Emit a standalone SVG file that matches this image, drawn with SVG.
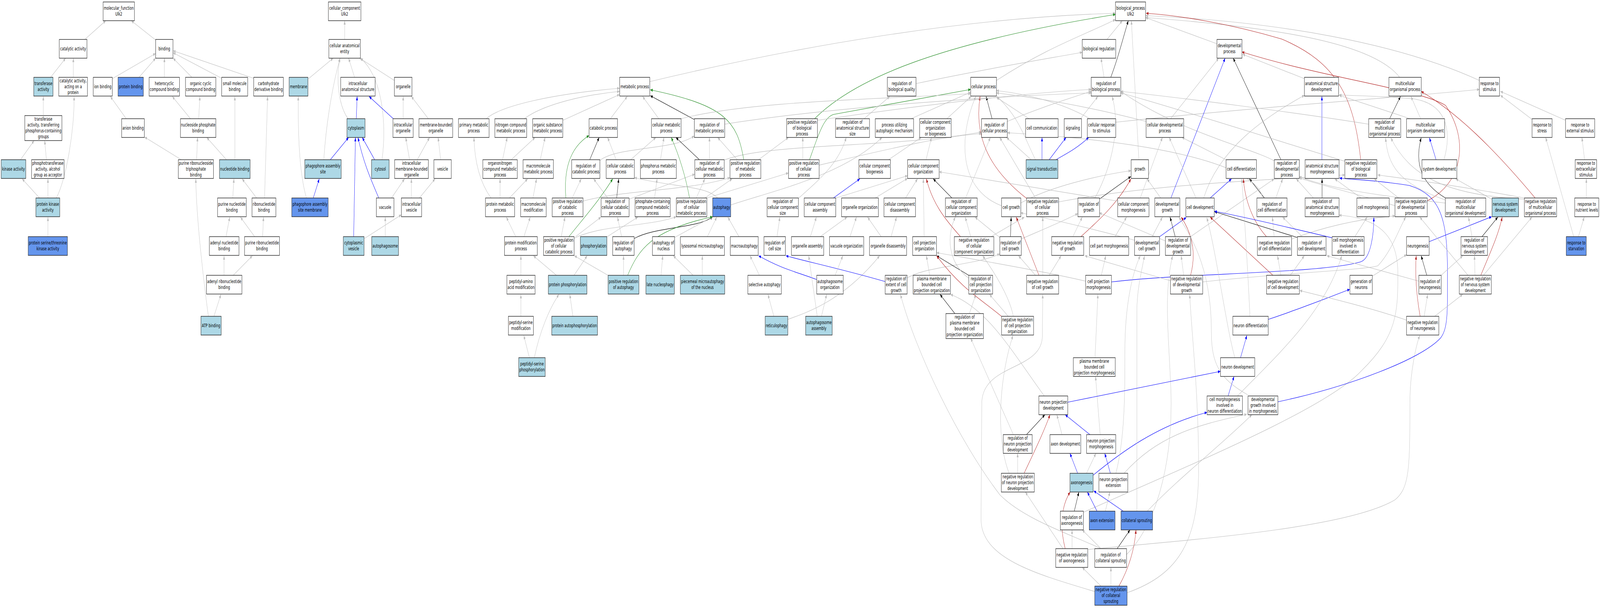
<svg xmlns="http://www.w3.org/2000/svg" width="6641" height="1557" viewBox="0 0 6641 1557" preserveAspectRatio="none" style="width:100vw;height:100vh;display:block">
<style>
.n rect{fill:#fff;stroke:#222;stroke-width:1.4}
.n.lb rect{fill:#add8e6}
.n.cb rect{fill:#6495ed}
.n text{font-family:'DejaVu Sans','Liberation Sans',sans-serif;font-size:13px;text-anchor:middle;fill:#000}
#edges path{fill:none;stroke-width:1.2;stroke:#bebebe;marker-end:url(#mg)}
#edges .k{stroke:#000;marker-end:url(#mk)}
#edges .b{stroke:#0000ff;marker-end:url(#mb)}
#edges .v{stroke:#228b22;marker-end:url(#mv)}
#edges .r{stroke:#b22222;marker-end:url(#mr)}
</style>
<defs>
<marker id="mg" viewBox="0 0 10 8" refX="10" refY="4" markerWidth="10" markerHeight="8" markerUnits="userSpaceOnUse" orient="auto"><path d="M0,0L10,4L0,8z" fill="#bebebe"/></marker>
<marker id="mk" viewBox="0 0 10 8" refX="10" refY="4" markerWidth="10" markerHeight="8" markerUnits="userSpaceOnUse" orient="auto"><path d="M0,0L10,4L0,8z" fill="#000"/></marker>
<marker id="mb" viewBox="0 0 10 8" refX="10" refY="4" markerWidth="10" markerHeight="8" markerUnits="userSpaceOnUse" orient="auto"><path d="M0,0L10,4L0,8z" fill="#0000ff"/></marker>
<marker id="mv" viewBox="0 0 10 8" refX="10" refY="4" markerWidth="10" markerHeight="8" markerUnits="userSpaceOnUse" orient="auto"><path d="M0,0L10,4L0,8z" fill="#228b22"/></marker>
<marker id="mr" viewBox="0 0 10 8" refX="10" refY="4" markerWidth="10" markerHeight="8" markerUnits="userSpaceOnUse" orient="auto"><path d="M0,0L10,4L0,8z" fill="#b22222"/></marker>
</defs>
<rect x="0" y="0" width="6641" height="1557" fill="#fff"/>
<g id="edges">
<path d="M352,101 L439,53"/>
<path d="M647,103 L545,53"/>
<path d="M210,198 L272.5,149"/>
<path d="M304.4,198 L304.4,149"/>
<path d="M466,201.5 L646,137"/>
<path d="M577,198 L646,149"/>
<path d="M682.4,198 L682.4,149"/>
<path d="M796.4,198 L718.5,149"/>
<path d="M920,200.5 L718.5,135"/>
<path d="M1052.7,200.5 L718.5,130"/>
<path d="M179.8,296 L179.8,247"/>
<path d="M523.9,304 L458,247"/>
<path d="M790.7,304 L715,247"/>
<path d="M824.7,304 L829.7,247"/>
<path d="M85,409 L141.6,360"/>
<path d="M192.6,409 L185.5,360"/>
<path d="M752.5,409 L600,351"/>
<path d="M816,409 L820,352"/>
<path d="M940,409 L858,352"/>
<path d="M974.8,409 L974.8,247"/>
<path d="M164,507 L92,458"/>
<path d="M199,507 L199,458"/>
<path d="M233.6,507 C275,460 310,330 307.3,247"/>
<path d="M966,507 L971,458"/>
<path d="M1065,507 L1005,458"/>
<path d="M1098,507 L1110.6,247"/>
<path d="M199,606 L199,556"/>
<path d="M938,606 L953.6,556"/>
<path d="M1057,606 L998,556"/>
<path d="M1090,606 L1093.7,556"/>
<path d="M930,705 L930,655"/>
<path d="M968,705 L1047.7,655"/>
<path d="M888,810 L917,754"/>
<path d="M865,810 C845,720 815,560 812.7,458"/>
<path d="M1430.6,101 L1430.6,53"/>
<path d="M1280.5,201.5 L1383,149"/>
<path d="M1444.7,304 C1405,270 1393,200 1411.5,149"/>
<path d="M1471.7,198 L1446.9,149"/>
<path d="M1636.6,206 L1493,149"/>
<path class="b" d="M1478.7,304 L1482.3,247"/>
<path class="b" d="M1371,409 L1447,352"/>
<path d="M1344,409 C1352,330 1375,230 1411.5,149"/>
<path class="b" d="M1555,409 L1503.5,352"/>
<path d="M1585.6,409 C1605,320 1590,200 1497,149"/>
<path class="b" d="M1632.4,304 L1531.8,247"/>
<path d="M1673.4,304 L1673.4,247"/>
<path d="M1778,304 L1707.4,247"/>
<path d="M1700,409 L1684,352"/>
<path d="M1732,409 L1783,352"/>
<path d="M1829,409 L1818.5,352"/>
<path class="b" d="M1300.3,507 L1325,458"/>
<path d="M1272,507 C1240,440 1237,330 1238,247"/>
<path class="b" d="M1572,507 C1540,460 1510,420 1485.8,352"/>
<path d="M1625,507 L1679,458"/>
<path d="M1707.4,507 L1707.4,458"/>
<path d="M1740.7,507 L1805.8,458"/>
<path class="b" d="M1468,606 L1475.2,352"/>
<path d="M1512,611 L1666,550"/>
<path d="M1599,606 L1599,556"/>
<path d="M2018,304 C2080,270 2300,240 2571.7,226"/>
<path d="M2176,304 C2250,270 2400,245 2571.7,234"/>
<path d="M2336.6,308 L2571.7,242"/>
<path d="M2533.4,304 L2603.5,247"/>
<path d="M2734.5,304 L2667.2,247"/>
<path class="k" d="M2881.7,306 L2699,245"/>
<path d="M2086,409 L2105,352"/>
<path d="M2122,409 L2221,352"/>
<path d="M2242.5,409 L2262.3,352"/>
<path d="M2038,507 C1995,470 1970,420 1967.2,352"/>
<path d="M2075.5,507 L2075.5,458"/>
<path d="M2114.5,507 L2190,458"/>
<path d="M2212,507 L2227,458"/>
<path d="M2140.6,606 L2101.7,556"/>
<path d="M2174.6,606 L2200.8,556"/>
<path d="M2162,705 L2162,655"/>
<path d="M2162,810 L2162,754"/>
<path d="M2197.3,916 L2174,859"/>
<path d="M2217.7,916 C2240,850 2280,790 2320,754"/>
<path d="M2378,810 L2365,754"/>
<path d="M2309.7,705 L2214,655"/>
<path d="M2382.6,705 L2437.2,655"/>
<path d="M2520.7,606 L2647.4,556"/>
<path d="M2716.8,507 L2727.4,458"/>
<path d="M2741.5,409 L2755.7,352"/>
<path d="M2557.5,409 L2522,352"/>
<path d="M2617.7,409 L2722.4,352"/>
<path class="k" d="M2447.8,409 L2486.7,352"/>
<path d="M2490,411 C2560,375 2800,385 2881.7,348"/>
<path d="M2944.7,409 L2944.7,352"/>
<path class="k" d="M2903,409 L2805.3,352"/>
<path d="M3007.7,409.4 C3200,365 3700,380 4073.7,338"/>
<path class="v" d="M3087,409 C3060,310 3010,270 2699,230"/>
<path d="M3060,409 L2978.7,352"/>
<path d="M3148.6,409 L3272.5,352"/>
<path class="v" d="M2348.7,507 C2340,440 2360,380 2445,347"/>
<path d="M2374.9,507 L2412.4,458"/>
<path d="M2419.5,515 C2600,485 2850,490 3030,455"/>
<path class="k" d="M2559.6,507 L2568,458"/>
<path d="M2522,507 L2464,458"/>
<path d="M2611.3,510 L2883.9,446"/>
<path class="v" d="M2862,507 C2845,450 2820,400 2786,352"/>
<path d="M2890,507 L2925.6,458"/>
<path d="M2925.6,507 L3038.9,458"/>
<path d="M2934,507 L3272.5,443"/>
<path d="M2978.7,507 C2930,475 2800,480 2633.3,455"/>
<path d="M3032.5,525 C3200,490 3500,450 3661,352"/>
<path class="v" d="M2361.4,606 C2420,560 2480,520 2543.3,458"/>
<path d="M2329.5,606 L2345,556"/>
<path d="M2389,606 L2494.5,556"/>
<path d="M2383,610 C2500,575 2700,580 2806.7,555"/>
<path class="k" d="M2631.8,611 C2720,580 2900,585 2958,555"/>
<path d="M2580,606 L2563,556"/>
<path d="M2800.3,608 L2958,555"/>
<path d="M2936,606 L2975,556"/>
<path d="M3067,606 L3021,556"/>
<path d="M2588,705 L2588,655"/>
<path class="v" d="M2605,705 C2650,640 2700,590 2958,555"/>
<path d="M2523.5,705 L2384,655"/>
<path d="M2743.7,705 L2750.8,655"/>
<path d="M2876.8,705 L2794.6,655"/>
<path d="M2915,705 L2915,655"/>
<path d="M3152,705 L3113,655"/>
<path d="M3212,810 L3187.5,754"/>
<path d="M3269.7,818 C3350,800 3500,770 3651,655"/>
<path class="b" d="M3390.6,716 C3300,695 3250,690 3148.6,655"/>
<path class="b" d="M3673.8,721 C3500,690 3350,670 3262,655"/>
<path d="M3225,606 L3237,556"/>
<path d="M3314,508 C3400,460 3480,420 3512.4,352"/>
<path d="M3802.6,214 C4100,175 4350,150 4492,134"/>
<path d="M3586.7,304 L3692.9,247"/>
<path d="M3781.4,304 L4029,236"/>
<path d="M3930,304 L4031,247"/>
<path class="k" d="M4117.7,304 L4092.9,247"/>
<path d="M4181,311 C4300,280 4420,255 4528.8,234"/>
<path d="M4271.3,304 L4135.3,249"/>
<path class="b" d="M4325,409 L4325,352"/>
<path d="M4298,409 C4250,350 4230,300 4138,247"/>
<path class="b" d="M4354.8,409 L4424.8,352"/>
<path class="b" d="M4383,409 C4420,395 4460,385 4519,352"/>
<path d="M4280,409 L4177.8,352"/>
<path d="M3688,409 L3823.9,352"/>
<path d="M3843.7,409 L3866.3,352"/>
<path class="k" d="M3951,507 L3873.4,458"/>
<path d="M4008,507 L4110.6,352"/>
<path d="M4157,527 C3960,480 3990,330 4050.4,247"/>
<path d="M4236.6,520 C4350,480 4550,450 4694.5,437"/>
<path class="r" d="M4260.7,508 C4120,440 4040,360 4068,247"/>
<path d="M4298,507 L4149.5,352"/>
<path d="M4394.4,517 C4800,470 5300,460 5582,448"/>
<path class="b" d="M3459.3,507 L3569,458"/>
<path d="M3470,507 L3767,450"/>
<path d="M3632.7,507 L3767,456.7"/>
<path d="M3758.7,507 L3808.3,458"/>
<path d="M3363.7,606 L3388.5,556"/>
<path d="M3404.8,606 L3516,556"/>
<path d="M3528,606 L3554.8,556"/>
<path d="M3657.5,606 L3600.9,556"/>
<path d="M3698.6,606 L3721.2,556"/>
<path d="M3835.9,606 L3832.4,458"/>
<path class="r" d="M3986.7,606 C3920,560 3870,520 3845,458"/>
<path d="M4029,606 L4006.5,556"/>
<path d="M4114,606 L4252,556"/>
<path class="k" d="M4194,606 L4197,556"/>
<path d="M4149.5,608 L4046.8,556"/>
<path d="M4238.7,612 C4320,590 4400,570 4473.6,547"/>
<path d="M4453,606 L4492,556"/>
<path class="r" d="M4486.4,606 C4560,565 4640,520 4694,458"/>
<path d="M3466.4,705 L3498.2,655"/>
<path d="M3765,712 C3850,680 4050,680 4149.5,650"/>
<path d="M3859,705 L3845,655"/>
<path class="k" d="M4020.7,705 L3887.6,655"/>
<path d="M4020,712 C3930,670 3930,600 3965.4,556"/>
<path d="M4298,705 L4227.4,655"/>
<path class="r" d="M4312.3,705 L4218,556"/>
<path d="M4328,705 L4328,556"/>
<path d="M4354.8,705 L4404.3,655"/>
<path d="M3409.7,810 L3431,754"/>
<path d="M3392,810 L3356.6,655"/>
<path class="k" d="M3963.3,803 L3901.7,754"/>
<path d="M4023.5,803 L4050.4,754"/>
<path d="M4184.9,810 L4107,754"/>
<path class="r" d="M4156.6,810 C4080,770 3990,740 3887.6,655"/>
<path d="M4206,810 C4190,760 4130,700 4078.7,655"/>
<path d="M4335,1014.4 C4200,900 4100,790 3945,754"/>
<path class="k" d="M4260.7,1113 L4337,1062"/>
<path d="M4206,1113 L4029,866"/>
<path d="M4223.8,1212 L4223.8,1161"/>
<path class="r" d="M4250.7,1212 C4290,1160 4330,1110 4358.3,1062"/>
<path d="M4188.5,1212 C4130,1120 4150,960 4204.7,859"/>
<path d="M4407.9,1113 L4386.7,1062"/>
<path class="k" d="M4458.8,1309.5 L4477.9,1260"/>
<path d="M4412,1405 L4255.7,1260"/>
<path d="M4569.9,1405 C4450,1370 4250,1330 4150,1267 C3980,1130 3800,900 3737.5,754"/>
<path d="M4545,1515 C4300,1470 4072,1430 4072,1330 L4075,1031 C4080,930 4326,950 4326.5,860 L4328,754"/>
<path d="M4594.7,101 L4658.4,53"/>
<path class="k" d="M4610.3,198 C4640,150 4660,100 4683.2,53"/>
<path d="M4582.6,198 L4569.9,149"/>
<path d="M5050.6,112 L4755,45"/>
<path d="M4727,409 L4696,53"/>
<path d="M2697,209 C3300,120 4000,45 4630,34"/>
<path class="v" d="M3381,304 C3550,200 3900,110 4630,37"/>
<path d="M4136,206 C4350,120 4500,90 4630,50"/>
<path class="v" d="M3360,409 C3400,340 3420,300 3460,293 L4029,229"/>
<path d="M3332,409 L3332,352"/>
<path d="M3399,423 C3700,380 3900,350 4073.7,342"/>
<path d="M3393.4,308 C3700,280 4200,240 4528.8,229"/>
<path d="M2826.5,304 C3100,260 3600,255 4029,240"/>
<path d="M3007.7,318 C3500,270 4200,245 4528.8,238"/>
<path d="M4485,304 L4557,247"/>
<path d="M4630.8,313 C5200,275 5800,250 6140.4,229"/>
<path d="M4523.9,304 C4400,260 4250,240 4136,232"/>
<path d="M4858.7,304 L5058.4,149"/>
<path d="M4756.8,311 C4500,270 4300,250 4136,238"/>
<path d="M5088.8,409 L4906,352"/>
<path class="k" d="M5316.7,409 L5118.5,149"/>
<path d="M5289,412 C5200,380 4900,340 4652,234"/>
<path class="b" d="M5486.7,409 L5486.7,247"/>
<path d="M5414.4,201.5 L5157.5,139"/>
<path class="k" d="M4562.8,510 L4693.8,452"/>
<path d="M4545,507 C4620,420 4650,320 4616,247"/>
<path d="M4732.7,507 L4824.7,352"/>
<path d="M4638.6,515 C4300,480 4000,450 3898,440"/>
<path d="M4817.7,507 L4761,458"/>
<path class="b" d="M4860,507 L5085,149"/>
<path class="b" d="M5023,507 L5111.5,458"/>
<path d="M4964.2,507 L4853,352"/>
<path d="M4996,507 C5060,380 5250,300 5414.4,244"/>
<path class="k" d="M5248,507 L5185.8,458"/>
<path d="M5295.5,507 L5323.8,458"/>
<path d="M5240,507 C5230,450 5000,370 4181.3,340"/>
<path class="k" d="M5487.4,507 L5487.4,458"/>
<path d="M5451.3,507 L5380.4,458"/>
<path d="M4628,606 L4676,556"/>
<path d="M4782.3,606 L4824.7,556"/>
<path class="b" d="M4813.4,606 L4923.8,557"/>
<path d="M4708.6,615 C4500,580 4350,560 4236.6,545"/>
<path class="k" d="M4877.8,606 L4856.6,556"/>
<path d="M4941.6,606 L5289,458"/>
<path d="M4836.8,617 L4562.8,545"/>
<path d="M5288.4,606 L5281.3,556"/>
<path class="r" d="M5256.6,606 C5190,560 5165,500 5161,458"/>
<path d="M5361.3,612 C5500,580 5650,560 5790.4,553"/>
<path class="k" d="M5384,608 L5040.7,542"/>
<path d="M5405.2,606 L5323.8,556"/>
<path d="M4571.3,705 L4589.7,655"/>
<path d="M4506,720 C4300,690 4000,660 3887.6,647"/>
<path class="b" d="M4613,722 C4900,700 5500,700 5650,670 C5690,660 5702,600 5702.3,557"/>
<path d="M4913,705 L4902.6,655"/>
<path class="r" d="M4941.6,705 C4965,650 4950,600 4902.6,556"/>
<path d="M4858.7,719 L4502.6,655"/>
<path d="M4991.8,722 C5300,700 5700,690 5720,680 C5780,640 5810,580 5835,556"/>
<path d="M5355.7,705 L5413.7,655"/>
<path class="r" d="M5283.4,705 L5023,556"/>
<path d="M5316.7,705 L5302.6,655"/>
<path d="M4545,916 L4557,754"/>
<path d="M4566.4,1113 L4547.2,964"/>
<path class="b" d="M4523.9,1113 L4421.2,1062"/>
<path class="b" d="M4472.9,1212 L4441,1161"/>
<path d="M4509.7,1212 L4548.7,1161"/>
<path class="b" d="M4537,1217 C4650,1160 4800,1090 5010,1056"/>
<path class="b" d="M4608.8,1212 L4585.5,1161"/>
<path d="M4665.5,1212 C4800,1120 4950,1090 5175,1061"/>
<path d="M4631.5,1212 C4670,1120 4669,1000 4669,900 C4669,780 4700,700 4732.7,655"/>
<path d="M4497,1312 C4900,1200 5500,1050 5650,950 C5800,860 5802,800 5802,700 C5802,620 5750,560 5558,551"/>
<path class="b" d="M4553.6,1309.5 L4513.3,1260"/>
<path d="M4587.6,1309.5 L4606.7,1260"/>
<path class="b" d="M4663.3,1309.5 L4539.5,1257"/>
<path d="M4761,1309.5 C4900,1220 5050,1150 5196.4,1062"/>
<path d="M4718.6,1309.5 L4718.6,800 C4718.6,740 4740,690 4750.4,655"/>
<path class="k" d="M4637,1405 L4690.2,1357"/>
<path d="M4569.9,1405 L4492,1357"/>
<path d="M4676,1420 C4790,1350 4870,1200 4860,1000 C4850,850 4830,750 4867,655"/>
<path d="M4611,1501 L4611,1453"/>
<path class="r" d="M4644.2,1501 C4690,1450 4710,1400 4715,1357"/>
<path d="M4569.9,1501 L4492,1453"/>
<path d="M4677.5,1518 C4900,1470 4975,1380 4975,1200 C4975,1000 4945,850 4938,754"/>
<path class="r" d="M4421.2,1405 C4395,1340 4410,1290 4442,1260"/>
<path d="M4449.6,1405 L4449.6,1357"/>
<path d="M4516.8,1407 C5000,1380 5600,1350 5790,1280 C5850,1250 5852,1200 5852,1031 C5852,950 5880,880 5893,859"/>
<path class="b" d="M5263.6,818 C5400,790 5500,765 5602.6,741"/>
<path d="M5188,810 C5180,700 5165,550 5153.9,458"/>
<path class="b" d="M5149,916 L5175.2,859"/>
<path d="M5125.6,916 C5090,840 5050,650 5008.8,557"/>
<path class="b" d="M5097.3,1014 L5122,964"/>
<path d="M5136.2,1014 C5300,910 5500,800 5569,655"/>
<path d="M5178.7,1011 C5060,970 5028,930 5028,850 C5028,700 4960,620 4893,556"/>
<path class="b" d="M5304,1029 C5600,990 5900,920 5980,865 C6010,840 6008,800 6008,700 C6008,560 5980,500 5850,475 C5700,460 5600,460 5560,456"/>
<path class="b" d="M4431.9,1030 L5065.4,951"/>
<path d="M5809.3,198 C5700,110 5300,70 4755.4,45"/>
<path d="M6140.4,206 C5800,110 5300,55 4755.4,40"/>
<path class="r" d="M5647.7,409 C5620,250 5550,160 5320,100 C5100,60 4900,40 4757,34"/>
<path class="r" d="M5922,515 C6070,470 6100,360 6000,270 C5900,230 5500,200 5154.6,133"/>
<path d="M5790.4,527 C5600,490 5450,470 5392.5,455"/>
<path d="M5805.6,507 L5703.7,458"/>
<path class="k" d="M5767.8,304 L5812.9,247"/>
<path d="M5680.5,318 C5400,290 4900,250 4652,234"/>
<path d="M5896.6,304 L5856.6,247"/>
<path d="M5852.9,304 L5558.2,244"/>
<path class="b" d="M5960.6,409 L5933,353"/>
<path d="M5993.4,409 C6030,330 6000,260 5850,252 C5700,245 5600,245 5558,243"/>
<path d="M6359.4,306 L6227.7,244"/>
<path d="M6497.7,308 L6227.7,234"/>
<path d="M5582,413 C5300,360 4900,280 4652,238"/>
<path class="k" d="M5999.2,507 C5900,470 5870,420 5898.8,353"/>
<path d="M5999.2,512 C5800,470 5760,420 5751,353"/>
<path d="M5999.2,520 C5700,500 5500,480 5392.5,452"/>
<path d="M6191.3,510 L6042,458"/>
<path class="r" d="M6371.8,507 C6200,380 6050,290 5898.8,234"/>
<path d="M6327.4,510 C6000,500 5850,450 5772.9,353"/>
<path d="M6327.4,507 C6000,470 5800,455 5718.3,448"/>
<path d="M6577,409 L6566,352"/>
<path d="M6584.3,507 L6584.3,458"/>
<path d="M5649.2,507 L5540,458"/>
<path d="M5623.7,606 L5674.6,556"/>
<path class="b" d="M5529,609 C5400,590 5200,560 5040.7,541"/>
<path class="b" d="M5931.5,619 L6191.3,555"/>
<path class="k" d="M6151.3,606 L6216.8,556"/>
<path d="M6109.8,606 L6095.2,556"/>
<path d="M6551.5,606 L6575.5,556"/>
<path d="M6531.9,606 L6415.4,352"/>
<path d="M5696.5,707 L5838.4,652"/>
<path class="k" d="M5922,705 L5898.8,655"/>
<path d="M5981.7,705 L6071.2,655"/>
<path d="M5889.3,720 L5507.3,655"/>
<path d="M6122.2,705 L6120,655"/>
<path class="r" d="M6146.2,705 C6190,640 6220,600 6235,556"/>
<path d="M6157.1,705 L6358.7,556"/>
<path d="M6093.1,705 L5893,556"/>
<path d="M5911.1,810 L5925.7,754"/>
<path class="r" d="M5894.4,810 C5880,760 5872,700 5878.4,655"/>
<path d="M5954.8,810 L6071,754"/>
<path d="M5838.4,820 C5700,790 5500,760 5394.6,744"/>
</g>
<g id="mf" class="n"><rect x="428" y="5" width="130" height="48"/><text x="493" y="25">molecular_function<tspan x="493" dy="15">Ulk2</tspan></text></g>
<g id="catact" class="n"><rect x="246" y="101" width="115" height="48"/><text x="303.5" y="129.5">catalytic activity</text></g>
<g id="binding" class="n"><rect x="646" y="101" width="72" height="48"/><text x="682" y="129.5">binding</text></g>
<g id="transf" class="n lb"><rect x="140" y="198" width="80" height="48"/><text x="180" y="218">transferase<tspan x="180" dy="15">activity</tspan></text></g>
<g id="catprot" class="n"><rect x="244" y="198" width="119" height="48"/><text x="303.5" y="211.5">catalytic activity,<tspan x="303.5" dy="15">acting on a</tspan><tspan x="303.5" dy="15">protein</tspan></text></g>
<g id="ionb" class="n"><rect x="387" y="198" width="79" height="48"/><text x="426.5" y="226.5">ion binding</text></g>
<g id="protb" class="n cb"><rect x="490" y="198" width="105" height="48"/><text x="542.5" y="226.5">protein binding</text></g>
<g id="hetb" class="n"><rect x="619" y="198" width="126" height="48"/><text x="682" y="218">heterocyclic<tspan x="682" dy="15">compound binding</tspan></text></g>
<g id="orgcyc" class="n"><rect x="770" y="198" width="126" height="48"/><text x="833" y="218">organic cyclic<tspan x="833" dy="15">compound binding</tspan></text></g>
<g id="smallmol" class="n"><rect x="920" y="198" width="108" height="48"/><text x="974" y="218">small molecule<tspan x="974" dy="15">binding</tspan></text></g>
<g id="carbder" class="n"><rect x="1053" y="198" width="123" height="48"/><text x="1114.5" y="218">carbohydrate<tspan x="1114.5" dy="15">derivative binding</tspan></text></g>
<g id="transphos" class="n"><rect x="103" y="296" width="154" height="64"/><text x="180" y="309">transferase<tspan x="180" dy="15">activity, transferring</tspan><tspan x="180" dy="15">phosphorus-containing</tspan><tspan x="180" dy="15">groups</tspan></text></g>
<g id="anion" class="n"><rect x="505" y="304" width="94" height="48"/><text x="552" y="332.5">anion binding</text></g>
<g id="nucphos" class="n"><rect x="749" y="304" width="147" height="48"/><text x="822.5" y="324">nucleoside phosphate<tspan x="822.5" dy="15">binding</tspan></text></g>
<g id="kinase" class="n lb"><rect x="5" y="409" width="102" height="48"/><text x="56" y="437.5">kinase activity</text></g>
<g id="phosalc" class="n"><rect x="131" y="409" width="135" height="48"/><text x="198.5" y="422.5">phosphotransferase<tspan x="198.5" dy="15">activity, alcohol</tspan><tspan x="198.5" dy="15">group as acceptor</tspan></text></g>
<g id="prtp" class="n"><rect x="740" y="409" width="146" height="48"/><text x="813" y="422.5">purine ribonucleoside<tspan x="813" dy="15">triphosphate</tspan><tspan x="813" dy="15">binding</tspan></text></g>
<g id="nucb" class="n lb"><rect x="911" y="409" width="127" height="48"/><text x="974.5" y="437.5">nucleotide binding</text></g>
<g id="pka" class="n lb"><rect x="149" y="507" width="99" height="48"/><text x="198.5" y="527">protein kinase<tspan x="198.5" dy="15">activity</tspan></text></g>
<g id="purnuc" class="n"><rect x="903" y="507" width="119" height="48"/><text x="962.5" y="527">purine nucleotide<tspan x="962.5" dy="15">binding</tspan></text></g>
<g id="ribonuc" class="n"><rect x="1046" y="507" width="99" height="48"/><text x="1095.5" y="527">ribonucleotide<tspan x="1095.5" dy="15">binding</tspan></text></g>
<g id="pstk" class="n cb"><rect x="117" y="606" width="163" height="48"/><text x="198.5" y="626">protein serine/threonine<tspan x="198.5" dy="15">kinase activity</tspan></text></g>
<g id="adenyl" class="n"><rect x="869" y="606" width="123" height="48"/><text x="930.5" y="626">adenyl nucleotide<tspan x="930.5" dy="15">binding</tspan></text></g>
<g id="purribo" class="n"><rect x="1015" y="606" width="145" height="48"/><text x="1087.5" y="626">purine ribonucleotide<tspan x="1087.5" dy="15">binding</tspan></text></g>
<g id="adenylribo" class="n"><rect x="857" y="705" width="147" height="48"/><text x="930.5" y="725">adenyl ribonucleotide<tspan x="930.5" dy="15">binding</tspan></text></g>
<g id="atp" class="n lb"><rect x="834" y="810" width="84" height="48"/><text x="876" y="838.5">ATP binding</text></g>
<g id="cc" class="n"><rect x="1363" y="5" width="135" height="48"/><text x="1430.5" y="25">cellular_component<tspan x="1430.5" dy="15">Ulk2</tspan></text></g>
<g id="cae" class="n"><rect x="1365" y="101" width="131" height="48"/><text x="1430.5" y="121">cellular anatomical<tspan x="1430.5" dy="15">entity</tspan></text></g>
<g id="membrane" class="n lb"><rect x="1200" y="198" width="78" height="48"/><text x="1239" y="226.5">membrane</text></g>
<g id="ias" class="n"><rect x="1414" y="198" width="143" height="48"/><text x="1485.5" y="218">intracellular<tspan x="1485.5" dy="15">anatomical structure</tspan></text></g>
<g id="organelle" class="n"><rect x="1637" y="198" width="73" height="48"/><text x="1673.5" y="226.5">organelle</text></g>
<g id="cytoplasm" class="n lb"><rect x="1440" y="304" width="75" height="48"/><text x="1477.5" y="332.5">cytoplasm</text></g>
<g id="intorg" class="n"><rect x="1631" y="304" width="84" height="48"/><text x="1673" y="324">intracellular<tspan x="1673" dy="15">organelle</tspan></text></g>
<g id="mbo" class="n"><rect x="1739" y="304" width="140" height="48"/><text x="1809" y="324">membrane-bounded<tspan x="1809" dy="15">organelle</tspan></text></g>
<g id="pas" class="n lb"><rect x="1265" y="409" width="151" height="48"/><text x="1340.5" y="429">phagophore assembly<tspan x="1340.5" dy="15">site</tspan></text></g>
<g id="cytosol" class="n lb"><rect x="1542" y="409" width="73" height="48"/><text x="1578.5" y="437.5">cytosol</text></g>
<g id="imbo" class="n"><rect x="1638" y="409" width="140" height="48"/><text x="1708" y="422.5">intracellular<tspan x="1708" dy="15">membrane-bounded</tspan><tspan x="1708" dy="15">organelle</tspan></text></g>
<g id="vesicle" class="n"><rect x="1801" y="409" width="72" height="48"/><text x="1837" y="437.5">vesicle</text></g>
<g id="pasm" class="n cb"><rect x="1211" y="507" width="151" height="48"/><text x="1286.5" y="527">phagophore assembly<tspan x="1286.5" dy="15">site membrane</tspan></text></g>
<g id="vacuole" class="n"><rect x="1562" y="507" width="73" height="48"/><text x="1598.5" y="535.5">vacuole</text></g>
<g id="intves" class="n"><rect x="1666" y="507" width="84" height="48"/><text x="1708" y="527">intracellular<tspan x="1708" dy="15">vesicle</tspan></text></g>
<g id="cytves" class="n lb"><rect x="1425" y="606" width="86" height="48"/><text x="1468" y="626">cytoplasmic<tspan x="1468" dy="15">vesicle</tspan></text></g>
<g id="autophagosome" class="n lb"><rect x="1543" y="606" width="111" height="48"/><text x="1598.5" y="634.5">autophagosome</text></g>
<g id="bp" class="n"><rect x="4630" y="5" width="125" height="48"/><text x="4692.5" y="25">biological_process<tspan x="4692.5" dy="15">Ulk2</tspan></text></g>
<g id="bioreg" class="n"><rect x="4492" y="101" width="139" height="48"/><text x="4561.5" y="129.5">biological regulation</text></g>
<g id="devproc" class="n"><rect x="5051" y="101" width="104" height="48"/><text x="5103" y="121">developmental<tspan x="5103" dy="15">process</tspan></text></g>
<g id="metab" class="n"><rect x="2572" y="198" width="125" height="48"/><text x="2634.5" y="226.5">metabolic process</text></g>
<g id="regbioq" class="n"><rect x="3683" y="198" width="119" height="48"/><text x="3742.5" y="218">regulation of<tspan x="3742.5" dy="15">biological quality</tspan></text></g>
<g id="cellproc" class="n"><rect x="4029" y="198" width="107" height="48"/><text x="4082.5" y="226.5">cellular process</text></g>
<g id="regbp" class="n"><rect x="4529" y="198" width="123" height="48"/><text x="4590.5" y="218">regulation of<tspan x="4590.5" dy="15">biological process</tspan></text></g>
<g id="asdev" class="n"><rect x="5414" y="198" width="142" height="48"/><text x="5485" y="218">anatomical structure<tspan x="5485" dy="15">development</tspan></text></g>
<g id="mop" class="n"><rect x="5765" y="198" width="134" height="48"/><text x="5832" y="218">multicellular<tspan x="5832" dy="15">organismal process</tspan></text></g>
<g id="respstim" class="n"><rect x="6140" y="198" width="84" height="48"/><text x="6182" y="218">response to<tspan x="6182" dy="15">stimulus</tspan></text></g>
<g id="primmet" class="n"><rect x="1903" y="304" width="127" height="48"/><text x="1966.5" y="324">primary metabolic<tspan x="1966.5" dy="15">process</tspan></text></g>
<g id="nitmet" class="n"><rect x="2054" y="304" width="132" height="48"/><text x="2120" y="324">nitrogen compound<tspan x="2120" dy="15">metabolic process</tspan></text></g>
<g id="orgsub" class="n"><rect x="2211" y="304" width="125" height="48"/><text x="2273.5" y="324">organic substance<tspan x="2273.5" dy="15">metabolic process</tspan></text></g>
<g id="catab" class="n"><rect x="2445" y="304" width="118" height="48"/><text x="2504" y="332.5">catabolic process</text></g>
<g id="cellmet" class="n"><rect x="2704" y="304" width="123" height="48"/><text x="2765.5" y="324">cellular metabolic<tspan x="2765.5" dy="15">process</tspan></text></g>
<g id="regmet" class="n"><rect x="2882" y="304" width="126" height="48"/><text x="2945" y="324">regulation of<tspan x="2945" dy="15">metabolic process</tspan></text></g>
<g id="posregbp" class="n"><rect x="3265" y="304" width="128" height="48"/><text x="3329" y="317.5">positive regulation<tspan x="3329" dy="15">of biological</tspan><tspan x="3329" dy="15">process</tspan></text></g>
<g id="regass" class="n"><rect x="3468" y="304" width="141" height="48"/><text x="3538.5" y="317.5">regulation of<tspan x="3538.5" dy="15">anatomical structure</tspan><tspan x="3538.5" dy="15">size</tspan></text></g>
<g id="puam" class="n"><rect x="3633" y="304" width="159" height="48"/><text x="3712.5" y="324">process utilizing<tspan x="3712.5" dy="15">autophagic mechanism</tspan></text></g>
<g id="ccob" class="n"><rect x="3817" y="304" width="131" height="48"/><text x="3882.5" y="317.5">cellular component<tspan x="3882.5" dy="15">organization</tspan><tspan x="3882.5" dy="15">or biogenesis</tspan></text></g>
<g id="regcp" class="n"><rect x="4074" y="304" width="107" height="48"/><text x="4127.5" y="324">regulation of<tspan x="4127.5" dy="15">cellular process</tspan></text></g>
<g id="cellcomm" class="n"><rect x="4257" y="304" width="135" height="48"/><text x="4324.5" y="332.5">cell communication</text></g>
<g id="signaling" class="n"><rect x="4417" y="304" width="72" height="48"/><text x="4453" y="332.5">signaling</text></g>
<g id="crs" class="n"><rect x="4513" y="304" width="118" height="48"/><text x="4572" y="324">cellular response<tspan x="4572" dy="15">to stimulus</tspan></text></g>
<g id="celldevproc" class="n"><rect x="4757" y="304" width="156" height="48"/><text x="4835" y="324">cellular developmental<tspan x="4835" dy="15">process</tspan></text></g>
<g id="regmop" class="n"><rect x="5681" y="304" width="133" height="48"/><text x="5747.5" y="317.5">regulation of<tspan x="5747.5" dy="15">multicellular</tspan><tspan x="5747.5" dy="15">organismal process</tspan></text></g>
<g id="mod" class="n"><rect x="5838" y="304" width="158" height="48"/><text x="5917" y="324">multicellular<tspan x="5917" dy="15">organism development</tspan></text></g>
<g id="respstress" class="n"><rect x="6359" y="304" width="83" height="48"/><text x="6400.5" y="324">response to<tspan x="6400.5" dy="15">stress</tspan></text></g>
<g id="respext" class="n"><rect x="6498" y="304" width="121" height="48"/><text x="6558.5" y="324">response to<tspan x="6558.5" dy="15">external stimulus</tspan></text></g>
<g id="orgnit" class="n"><rect x="2004" y="409" width="143" height="48"/><text x="2075.5" y="422.5">organonitrogen<tspan x="2075.5" dy="15">compound metabolic</tspan><tspan x="2075.5" dy="15">process</tspan></text></g>
<g id="macromet" class="n"><rect x="2171" y="409" width="126" height="48"/><text x="2234" y="429">macromolecule<tspan x="2234" dy="15">metabolic process</tspan></text></g>
<g id="regcat" class="n"><rect x="2373" y="409" width="117" height="48"/><text x="2431.5" y="429">regulation of<tspan x="2431.5" dy="15">catabolic process</tspan></text></g>
<g id="cellcat" class="n"><rect x="2516" y="409" width="117" height="48"/><text x="2574.5" y="429">cellular catabolic<tspan x="2574.5" dy="15">process</tspan></text></g>
<g id="phosmet" class="n"><rect x="2658" y="409" width="149" height="48"/><text x="2732.5" y="429">phosphorus metabolic<tspan x="2732.5" dy="15">process</tspan></text></g>
<g id="regcellmet" class="n"><rect x="2884" y="409" width="122" height="48"/><text x="2945" y="422.5">regulation of<tspan x="2945" dy="15">cellular metabolic</tspan><tspan x="2945" dy="15">process</tspan></text></g>
<g id="posregmet" class="n"><rect x="3030" y="409" width="128" height="48"/><text x="3094" y="422.5">positive regulation<tspan x="3094" dy="15">of metabolic</tspan><tspan x="3094" dy="15">process</tspan></text></g>
<g id="posregcp" class="n"><rect x="3273" y="409" width="127" height="48"/><text x="3336.5" y="422.5">positive regulation<tspan x="3336.5" dy="15">of cellular</tspan><tspan x="3336.5" dy="15">process</tspan></text></g>
<g id="ccbio" class="n"><rect x="3565" y="409" width="131" height="48"/><text x="3630.5" y="429">cellular component<tspan x="3630.5" dy="15">biogenesis</tspan></text></g>
<g id="cco" class="n"><rect x="3767" y="409" width="131" height="48"/><text x="3832.5" y="429">cellular component<tspan x="3832.5" dy="15">organization</tspan></text></g>
<g id="sigtrans" class="n lb"><rect x="4259" y="409" width="132" height="48"/><text x="4325" y="437.5">signal transduction</text></g>
<g id="growth" class="n"><rect x="4695" y="409" width="72" height="48"/><text x="4731" y="437.5">growth</text></g>
<g id="celldiff" class="n"><rect x="5089" y="409" width="126" height="48"/><text x="5152" y="437.5">cell differentiation</text></g>
<g id="regdevproc" class="n"><rect x="5289" y="409" width="104" height="48"/><text x="5341" y="422.5">regulation of<tspan x="5341" dy="15">developmental</tspan><tspan x="5341" dy="15">process</tspan></text></g>
<g id="asmorph" class="n"><rect x="5417" y="409" width="141" height="48"/><text x="5487.5" y="429">anatomical structure<tspan x="5487.5" dy="15">morphogenesis</tspan></text></g>
<g id="negregbp" class="n"><rect x="5582" y="409" width="133" height="48"/><text x="5648.5" y="422.5">negative regulation<tspan x="5648.5" dy="15">of biological</tspan><tspan x="5648.5" dy="15">process</tspan></text></g>
<g id="sysdev" class="n"><rect x="5902" y="409" width="145" height="48"/><text x="5974.5" y="437.5">system development</text></g>
<g id="respextra" class="n"><rect x="6538" y="409" width="89" height="48"/><text x="6582.5" y="422.5">response to<tspan x="6582.5" dy="15">extracellular</tspan><tspan x="6582.5" dy="15">stimulus</tspan></text></g>
<g id="protmet" class="n"><rect x="2015" y="507" width="121" height="48"/><text x="2075.5" y="527">protein metabolic<tspan x="2075.5" dy="15">process</tspan></text></g>
<g id="macromod" class="n"><rect x="2161" y="507" width="106" height="48"/><text x="2214" y="527">macromolecule<tspan x="2214" dy="15">modification</tspan></text></g>
<g id="posregcat" class="n"><rect x="2292" y="507" width="128" height="48"/><text x="2356" y="520.5">positive regulation<tspan x="2356" dy="15">of catabolic</tspan><tspan x="2356" dy="15">process</tspan></text></g>
<g id="regcellcat" class="n"><rect x="2495" y="507" width="116" height="48"/><text x="2553" y="520.5">regulation of<tspan x="2553" dy="15">cellular catabolic</tspan><tspan x="2553" dy="15">process</tspan></text></g>
<g id="phoscomp" class="n"><rect x="2636" y="507" width="146" height="48"/><text x="2709" y="520.5">phosphate-containing<tspan x="2709" dy="15">compound metabolic</tspan><tspan x="2709" dy="15">process</tspan></text></g>
<g id="posregcellmet" class="n"><rect x="2807" y="507" width="127" height="48"/><text x="2870.5" y="520.5">positive regulation<tspan x="2870.5" dy="15">of cellular</tspan><tspan x="2870.5" dy="15">metabolic process</tspan></text></g>
<g id="autophagy" class="n cb"><rect x="2958" y="507" width="75" height="48"/><text x="2995.5" y="535.5">autophagy</text></g>
<g id="regccsize" class="n"><rect x="3184" y="507" width="130" height="48"/><text x="3249" y="520.5">regulation of<tspan x="3249" dy="15">cellular component</tspan><tspan x="3249" dy="15">size</tspan></text></g>
<g id="ccass" class="n"><rect x="3338" y="507" width="131" height="48"/><text x="3403.5" y="527">cellular component<tspan x="3403.5" dy="15">assembly</tspan></text></g>
<g id="orgorg" class="n"><rect x="3493" y="507" width="153" height="48"/><text x="3569.5" y="535.5">organelle organization</text></g>
<g id="ccdis" class="n"><rect x="3669" y="507" width="131" height="48"/><text x="3734.5" y="527">cellular component<tspan x="3734.5" dy="15">disassembly</tspan></text></g>
<g id="regcco" class="n"><rect x="3924" y="507" width="132" height="48"/><text x="3990" y="520.5">regulation of<tspan x="3990" dy="15">cellular component</tspan><tspan x="3990" dy="15">organization</tspan></text></g>
<g id="cellgrowth" class="n"><rect x="4157" y="507" width="80" height="48"/><text x="4197" y="535.5">cell growth</text></g>
<g id="negregcp" class="n"><rect x="4261" y="507" width="133" height="48"/><text x="4327.5" y="520.5">negative regulation<tspan x="4327.5" dy="15">of cellular</tspan><tspan x="4327.5" dy="15">process</tspan></text></g>
<g id="reggrowth" class="n"><rect x="4474" y="507" width="90" height="48"/><text x="4519" y="527">regulation of<tspan x="4519" dy="15">growth</tspan></text></g>
<g id="ccmorph" class="n"><rect x="4639" y="507" width="130" height="48"/><text x="4704" y="527">cellular component<tspan x="4704" dy="15">morphogenesis</tspan></text></g>
<g id="devgrowth" class="n"><rect x="4793" y="507" width="104" height="48"/><text x="4845" y="527">developmental<tspan x="4845" dy="15">growth</tspan></text></g>
<g id="celldev" class="n"><rect x="4922" y="507" width="118" height="48"/><text x="4981" y="535.5">cell development</text></g>
<g id="regcelldiff" class="n"><rect x="5217" y="507" width="125" height="48"/><text x="5279.5" y="527">regulation of<tspan x="5279.5" dy="15">cell differentiation</tspan></text></g>
<g id="regasmorph" class="n"><rect x="5417" y="507" width="141" height="48"/><text x="5487.5" y="520.5">regulation of<tspan x="5487.5" dy="15">anatomical structure</tspan><tspan x="5487.5" dy="15">morphogenesis</tspan></text></g>
<g id="cellmorph" class="n"><rect x="5632" y="507" width="134" height="48"/><text x="5699" y="535.5">cell morphogenesis</text></g>
<g id="negregdevproc" class="n"><rect x="5790" y="507" width="134" height="48"/><text x="5857" y="520.5">negative regulation<tspan x="5857" dy="15">of developmental</tspan><tspan x="5857" dy="15">process</tspan></text></g>
<g id="regmodev" class="n"><rect x="5999" y="507" width="168" height="48"/><text x="6083" y="520.5">regulation of<tspan x="6083" dy="15">multicellular</tspan><tspan x="6083" dy="15">organismal development</tspan></text></g>
<g id="nsdev" class="n lb"><rect x="6193" y="507" width="110" height="48"/><text x="6248" y="527">nervous system<tspan x="6248" dy="15">development</tspan></text></g>
<g id="negregmop" class="n"><rect x="6327" y="507" width="134" height="48"/><text x="6394" y="520.5">negative regulation<tspan x="6394" dy="15">of multicellular</tspan><tspan x="6394" dy="15">organismal process</tspan></text></g>
<g id="respnut" class="n"><rect x="6536" y="507" width="100" height="48"/><text x="6586" y="527">response to<tspan x="6586" dy="15">nutrient levels</tspan></text></g>
<g id="protmod" class="n"><rect x="2094" y="606" width="136" height="48"/><text x="2162" y="626">protein modification<tspan x="2162" dy="15">process</tspan></text></g>
<g id="posregcellcat" class="n"><rect x="2256" y="606" width="127" height="48"/><text x="2319.5" y="619.5">positive regulation<tspan x="2319.5" dy="15">of cellular</tspan><tspan x="2319.5" dy="15">catabolic process</tspan></text></g>
<g id="phosph" class="n lb"><rect x="2409" y="606" width="110" height="48"/><text x="2464" y="634.5">phosphorylation</text></g>
<g id="regaut" class="n"><rect x="2543" y="606" width="89" height="48"/><text x="2587.5" y="626">regulation of<tspan x="2587.5" dy="15">autophagy</tspan></text></g>
<g id="autnuc" class="n"><rect x="2708" y="606" width="92" height="48"/><text x="2754" y="626">autophagy of<tspan x="2754" dy="15">nucleus</tspan></text></g>
<g id="lysmic" class="n"><rect x="2824" y="606" width="183" height="48"/><text x="2915.5" y="634.5">lysosomal microautophagy</text></g>
<g id="macroaut" class="n"><rect x="3031" y="606" width="116" height="48"/><text x="3089" y="634.5">macroautophagy</text></g>
<g id="regcellsize" class="n"><rect x="3171" y="606" width="89" height="48"/><text x="3215.5" y="626">regulation of<tspan x="3215.5" dy="15">cell size</tspan></text></g>
<g id="orgass" class="n"><rect x="3285" y="606" width="134" height="48"/><text x="3352" y="634.5">organelle assembly</text></g>
<g id="vacorg" class="n"><rect x="3443" y="606" width="142" height="48"/><text x="3514" y="634.5">vacuole organization</text></g>
<g id="orgdis" class="n"><rect x="3609" y="606" width="154" height="48"/><text x="3686" y="634.5">organelle disassembly</text></g>
<g id="cpo" class="n"><rect x="3788" y="606" width="99" height="48"/><text x="3837.5" y="626">cell projection<tspan x="3837.5" dy="15">organization</tspan></text></g>
<g id="negregcco" class="n"><rect x="3961" y="606" width="164" height="48"/><text x="4043" y="619.5">negative regulation<tspan x="4043" dy="15">of cellular</tspan><tspan x="4043" dy="15">component organization</tspan></text></g>
<g id="regcellgrowth" class="n"><rect x="4150" y="606" width="89" height="48"/><text x="4194.5" y="626">regulation of<tspan x="4194.5" dy="15">cell growth</tspan></text></g>
<g id="negreggrowth" class="n"><rect x="4365" y="606" width="133" height="48"/><text x="4431.5" y="626">negative regulation<tspan x="4431.5" dy="15">of growth</tspan></text></g>
<g id="cellpartmorph" class="n"><rect x="4522" y="606" width="163" height="48"/><text x="4603.5" y="634.5">cell part morphogenesis</text></g>
<g id="devcellgrowth" class="n"><rect x="4709" y="606" width="104" height="48"/><text x="4761" y="626">developmental<tspan x="4761" dy="15">cell growth</tspan></text></g>
<g id="regdevgrowth" class="n"><rect x="4837" y="606" width="105" height="48"/><text x="4889.5" y="619.5">regulation of<tspan x="4889.5" dy="15">developmental</tspan><tspan x="4889.5" dy="15">growth</tspan></text></g>
<g id="negregcelldiff" class="n"><rect x="5219" y="606" width="142" height="48"/><text x="5290" y="626">negative regulation<tspan x="5290" dy="15">of cell differentiation</tspan></text></g>
<g id="regcelldev" class="n"><rect x="5385" y="606" width="119" height="48"/><text x="5444.5" y="626">regulation of<tspan x="5444.5" dy="15">cell development</tspan></text></g>
<g id="cmid" class="n"><rect x="5529" y="606" width="133" height="48"/><text x="5595.5" y="619.5">cell morphogenesis<tspan x="5595.5" dy="15">involved in</tspan><tspan x="5595.5" dy="15">differentiation</tspan></text></g>
<g id="neurogenesis" class="n"><rect x="5838" y="606" width="94" height="48"/><text x="5885" y="634.5">neurogenesis</text></g>
<g id="regnsdev" class="n"><rect x="6064" y="606" width="110" height="48"/><text x="6119" y="619.5">regulation of<tspan x="6119" dy="15">nervous system</tspan><tspan x="6119" dy="15">development</tspan></text></g>
<g id="respstarv" class="n cb"><rect x="6501" y="606" width="83" height="48"/><text x="6542.5" y="626">response to<tspan x="6542.5" dy="15">starvation</tspan></text></g>
<g id="pepaa" class="n"><rect x="2104" y="705" width="117" height="48"/><text x="2162.5" y="725">peptidyl-amino<tspan x="2162.5" dy="15">acid modification</tspan></text></g>
<g id="protphos" class="n lb"><rect x="2276" y="705" width="160" height="48"/><text x="2356" y="733.5">protein phosphorylation</text></g>
<g id="posregaut" class="n lb"><rect x="2524" y="705" width="128" height="48"/><text x="2588" y="725">positive regulation<tspan x="2588" dy="15">of autophagy</tspan></text></g>
<g id="latenuc" class="n lb"><rect x="2681" y="705" width="118" height="48"/><text x="2740" y="733.5">late nucleophagy</text></g>
<g id="piecemeal" class="n lb"><rect x="2824" y="705" width="184" height="48"/><text x="2916" y="725">piecemeal microautophagy<tspan x="2916" dy="15">of the nucleus</tspan></text></g>
<g id="selaut" class="n"><rect x="3104" y="705" width="139" height="48"/><text x="3173.5" y="733.5">selective autophagy</text></g>
<g id="autorg" class="n"><rect x="3390" y="705" width="110" height="48"/><text x="3445" y="725">autophagosome<tspan x="3445" dy="15">organization</tspan></text></g>
<g id="regextcg" class="n"><rect x="3674" y="705" width="91" height="48"/><text x="3719.5" y="718.5">regulation of<tspan x="3719.5" dy="15">extent of cell</tspan><tspan x="3719.5" dy="15">growth</tspan></text></g>
<g id="pmbcpo" class="n"><rect x="3790" y="705" width="155" height="48"/><text x="3867.5" y="718.5">plasma membrane<tspan x="3867.5" dy="15">bounded cell</tspan><tspan x="3867.5" dy="15">projection organization</tspan></text></g>
<g id="regcpo" class="n"><rect x="4021" y="705" width="99" height="48"/><text x="4070.5" y="718.5">regulation of<tspan x="4070.5" dy="15">cell projection</tspan><tspan x="4070.5" dy="15">organization</tspan></text></g>
<g id="negregcg" class="n"><rect x="4261" y="705" width="133" height="48"/><text x="4327.5" y="725">negative regulation<tspan x="4327.5" dy="15">of cell growth</tspan></text></g>
<g id="cpmorph" class="n"><rect x="4506" y="705" width="107" height="48"/><text x="4559.5" y="725">cell projection<tspan x="4559.5" dy="15">morphogenesis</tspan></text></g>
<g id="negregdevgrowth" class="n"><rect x="4858" y="705" width="134" height="48"/><text x="4925" y="718.5">negative regulation<tspan x="4925" dy="15">of developmental</tspan><tspan x="4925" dy="15">growth</tspan></text></g>
<g id="negregcelldev" class="n"><rect x="5257" y="705" width="136" height="48"/><text x="5325" y="725">negative regulation<tspan x="5325" dy="15">of cell development</tspan></text></g>
<g id="genneur" class="n"><rect x="5603" y="705" width="93" height="48"/><text x="5649.5" y="725">generation of<tspan x="5649.5" dy="15">neurons</tspan></text></g>
<g id="regneurog" class="n"><rect x="5889" y="705" width="93" height="48"/><text x="5935.5" y="725">regulation of<tspan x="5935.5" dy="15">neurogenesis</tspan></text></g>
<g id="negregnsdev" class="n"><rect x="6057" y="705" width="133" height="48"/><text x="6123.5" y="718.5">negative regulation<tspan x="6123.5" dy="15">of nervous system</tspan><tspan x="6123.5" dy="15">development</tspan></text></g>
<g id="pepser" class="n"><rect x="2110" y="810" width="104" height="48"/><text x="2162" y="830">peptidyl-serine<tspan x="2162" dy="15">modification</tspan></text></g>
<g id="protautophos" class="n lb"><rect x="2290" y="810" width="190" height="48"/><text x="2385" y="838.5">protein autophosphorylation</text></g>
<g id="reticulophagy" class="n lb"><rect x="3176" y="810" width="94" height="48"/><text x="3223" y="838.5">reticulophagy</text></g>
<g id="autass" class="n lb"><rect x="3344" y="810" width="110" height="48"/><text x="3399" y="830">autophagosome<tspan x="3399" dy="15">assembly</tspan></text></g>
<g id="regpmbcpo" class="n"><rect x="3926" y="803" width="156" height="64"/><text x="4004" y="816">regulation of<tspan x="4004" dy="15">plasma membrane</tspan><tspan x="4004" dy="15">bounded cell</tspan><tspan x="4004" dy="15">projection organization</tspan></text></g>
<g id="negregcpo" class="n"><rect x="4157" y="810" width="133" height="48"/><text x="4223.5" y="823.5">negative regulation<tspan x="4223.5" dy="15">of cell projection</tspan><tspan x="4223.5" dy="15">organization</tspan></text></g>
<g id="neurdiff" class="n"><rect x="5117" y="810" width="147" height="48"/><text x="5190.5" y="838.5">neuron differentiation</text></g>
<g id="negregneurog" class="n"><rect x="5838" y="810" width="134" height="48"/><text x="5905" y="830">negative regulation<tspan x="5905" dy="15">of neurogenesis</tspan></text></g>
<g id="pepserphos" class="n lb"><rect x="2153" y="916" width="110" height="48"/><text x="2208" y="936">peptidyl-serine<tspan x="2208" dy="15">phosphorylation</tspan></text></g>
<g id="pmbcpm" class="n"><rect x="4455" y="916" width="174" height="48"/><text x="4542" y="929.5">plasma membrane<tspan x="4542" dy="15">bounded cell</tspan><tspan x="4542" dy="15">projection morphogenesis</tspan></text></g>
<g id="neurdev" class="n"><rect x="5066" y="916" width="142" height="48"/><text x="5137" y="944.5">neuron development</text></g>
<g id="npd" class="n"><rect x="4312" y="1014" width="120" height="48"/><text x="4372" y="1034">neuron projection<tspan x="4372" dy="15">development</tspan></text></g>
<g id="cmind" class="n"><rect x="5010" y="1014" width="147" height="48"/><text x="5083.5" y="1027.5">cell morphogenesis<tspan x="5083.5" dy="15">involved in</tspan><tspan x="5083.5" dy="15">neuron differentiation</tspan></text></g>
<g id="dgim" class="n"><rect x="5180" y="1014" width="124" height="48"/><text x="5242" y="1027.5">developmental<tspan x="5242" dy="15">growth involved</tspan><tspan x="5242" dy="15">in morphogenesis</tspan></text></g>
<g id="regnpd" class="n"><rect x="4164" y="1113" width="120" height="48"/><text x="4224" y="1126.5">regulation of<tspan x="4224" dy="15">neuron projection</tspan><tspan x="4224" dy="15">development</tspan></text></g>
<g id="axondev" class="n"><rect x="4358" y="1113" width="128" height="48"/><text x="4422" y="1141.5">axon development</text></g>
<g id="npm" class="n"><rect x="4510" y="1113" width="121" height="48"/><text x="4570.5" y="1133">neuron projection<tspan x="4570.5" dy="15">morphogenesis</tspan></text></g>
<g id="negregnpd" class="n"><rect x="4156" y="1212" width="137" height="48"/><text x="4224.5" y="1225.5">negative regulation<tspan x="4224.5" dy="15">of neuron projection</tspan><tspan x="4224.5" dy="15">development</tspan></text></g>
<g id="axonogenesis" class="n lb"><rect x="4441" y="1212" width="96" height="48"/><text x="4489" y="1240.5">axonogenesis</text></g>
<g id="npe" class="n"><rect x="4561" y="1212" width="120" height="48"/><text x="4621" y="1232">neuron projection<tspan x="4621" dy="15">extension</tspan></text></g>
<g id="regaxon" class="n"><rect x="4401" y="1309" width="96" height="48"/><text x="4449" y="1329">regulation of<tspan x="4449" dy="15">axonogenesis</tspan></text></g>
<g id="axonext" class="n cb"><rect x="4521" y="1309" width="107" height="48"/><text x="4574.5" y="1337.5">axon extension</text></g>
<g id="collspr" class="n cb"><rect x="4653" y="1309" width="131" height="48"/><text x="4718.5" y="1337.5">collateral sprouting</text></g>
<g id="negregaxon" class="n"><rect x="4382" y="1405" width="133" height="48"/><text x="4448.5" y="1425">negative regulation<tspan x="4448.5" dy="15">of axonogenesis</tspan></text></g>
<g id="regcollspr" class="n"><rect x="4544" y="1405" width="132" height="48"/><text x="4610" y="1425">regulation of<tspan x="4610" dy="15">collateral sprouting</tspan></text></g>
<g id="negregcollspr" class="n cb"><rect x="4544" y="1501" width="134" height="49"/><text x="4611" y="1514.5">negative regulation<tspan x="4611" dy="15">of collateral</tspan><tspan x="4611" dy="15">sprouting</tspan></text></g>
</svg>
